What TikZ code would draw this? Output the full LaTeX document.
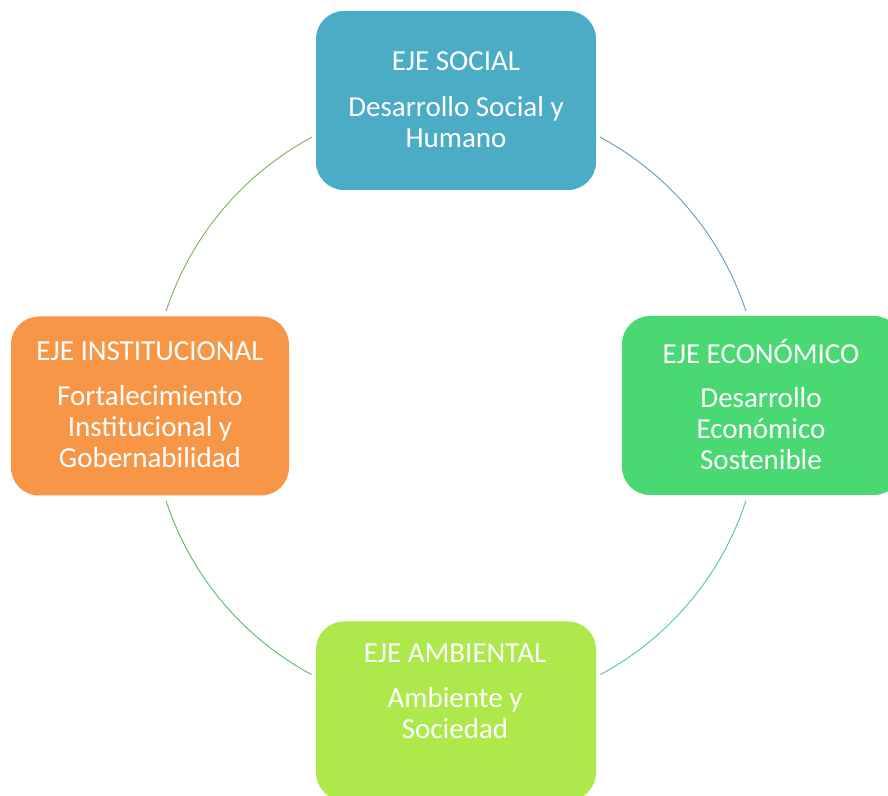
\documentclass[tikz,border=0pt]{standalone}
\usepackage{fontspec}
\setmainfont{Carlito}
\definecolor{cSocial}{HTML}{4BACC6}
\definecolor{cEcon}{HTML}{4AD873}
\definecolor{cAmb}{HTML}{ADE94A}
\definecolor{cInst}{HTML}{F79646}
\definecolor{aTR}{HTML}{5B9BD5}
\definecolor{aRB}{HTML}{4BC6B9}
\definecolor{aBL}{HTML}{4DC060}
\definecolor{aLT}{HTML}{7AB648}
\tikzset{
  axbox/.style={rounded corners=28pt, minimum width=280pt, minimum height=179pt, inner sep=0pt, draw=none},
  axtext/.style={text=white, align=center, inner sep=0pt, font=\fontsize{29}{31}\selectfont},
  ring/.style={line width=0.9pt}
}
\begin{document}
\begin{tikzpicture}[x=1pt,y=1pt]
\useasboundingbox (0,0) rectangle (888,795);
\clip (0,0) rectangle (888,795);
\fill[white] (0,0) rectangle (888,795);
\coordinate (c) at (456,389);
% arcs
\draw[ring, aTR] ([shift={(61.8:305pt)}]c) arc[start angle=61.8, end angle=18.1, radius=305pt];
\draw[ring, aRB] ([shift={(-18.1:305pt)}]c) arc[start angle=-18.1, end angle=-61.7, radius=305pt];
\draw[ring, aBL] ([shift={(-118.3:305pt)}]c) arc[start angle=-118.3, end angle=-161.9, radius=305pt];
\draw[ring, aLT] ([shift={(161.9:305pt)}]c) arc[start angle=161.9, end angle=118.2, radius=305pt];
% boxes
\node[axbox, fill=cSocial] (social) at (456,694.5) {};
\node[axbox, fill=cEcon] (econ) at (762,389.5) {};
\node[axbox, fill=cAmb] (amb) at (456,84) {};
\node[axbox, fill=cInst, minimum width=278pt] (inst) at (150,389) {};
% texts
\node[axtext] (socialt) at (456,695) {EJE SOCIAL\\[15pt]Desarrollo Social y\\Humano};
\node[axtext] (econt) at (761,390) {EJE ECONÓMICO\\[13pt]Desarrollo\\Económico\\Sostenible};
\node[axtext] (ambt) at (455,104) {EJE AMBIENTAL\\[14pt]Ambiente y\\Sociedad};
\node[axtext] (instt) at (150,390) {EJE INSTITUCIONAL\\[14pt]Fortalecimiento\\Institucional y\\Gobernabilidad};
\end{tikzpicture}
\end{document}
